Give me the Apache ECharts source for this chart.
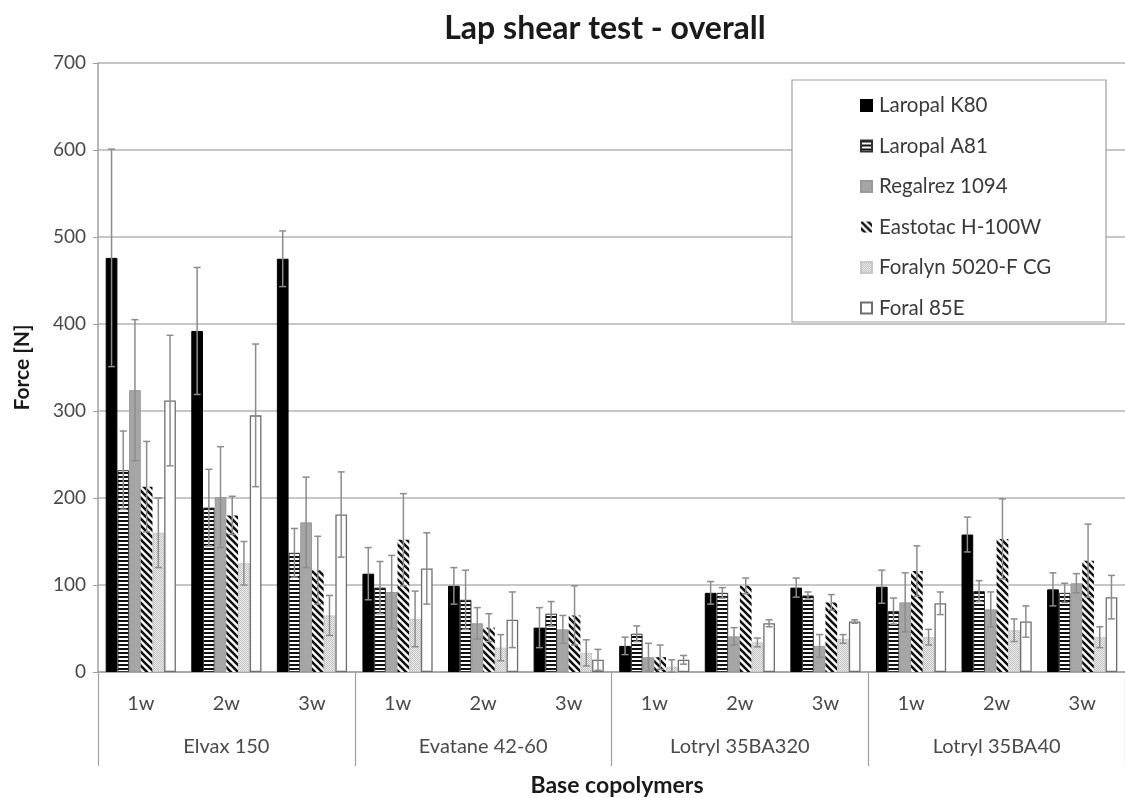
<!DOCTYPE html>
<html>
<head>
<meta charset="utf-8">
<script src="https://cdn.jsdelivr.net/npm/echarts@6/dist/echarts.min.js"></script>
<style>
html,body{margin:0;padding:0;background:#fff;}
#c{width:1125px;height:798px;}
</style>
</head>
<body>
<div id="c"></div>
<script>
// ---- data ----
const weeks = ['1w','2w','3w','1w','2w','3w','1w','2w','3w','1w','2w','3w'];
const groups = ['Elvax 150','Evatane 42-60','Lotryl 35BA320','Lotryl 35BA40'];
const seriesNames = ['Laropal K80','Laropal A81','Regalrez 1094','Eastotac H-100W','Foralyn 5020-F CG','Foral 85E'];
const yTicks = [0,100,200,300,400,500,600,700];

const laropalK80    = [476, 392, 475, 113, 99, 51, 30, 91, 97, 98, 158, 95];
const laropalK80Err = [125, 73, 32, 30, 21, 23, 10, 13, 11, 19, 20, 19];
const laropalA81    = [232, 189, 137, 97, 83, 67, 44, 91, 88, 70, 93, 91];
const laropalA81Err = [45, 44, 28, 30, 34, 14, 9, 6, 4, 15, 12, 11];
const regalrez      = [324, 201, 172, 92, 56, 49, 17, 41, 30, 80, 72, 102];
const regalrezErr   = [81, 58, 52, 42, 18, 16, 16, 10, 13, 34, 20, 11];
const eastotac      = [213, 180, 117, 152, 51, 65, 17, 99, 80, 116, 153, 128];
const eastotacErr   = [52, 22, 39, 53, 16, 34, 14, 9, 9, 29, 46, 42];
const foralyn       = [160, 125, 65, 61, 28, 22, 6, 34, 38, 40, 48, 40];
const foralynErr    = [40, 25, 23, 32, 15, 15, 8, 5, 5, 9, 13, 12];
const foral85E      = [312, 295, 181, 119, 60, 14, 14, 56, 58, 79, 58, 86];
const foral85EErr   = [75, 82, 49, 41, 32, 12, 5, 4, 2, 13, 18, 25];

const values = [laropalK80, laropalA81, regalrez, eastotac, foralyn, foral85E];
const errors = [laropalK80Err, laropalA81Err, regalrezErr, eastotacErr, foralynErr, foral85EErr];

// ---- patterns ----
function mk(w,h,draw){const c=document.createElement('canvas');c.width=w;c.height=h;const x=c.getContext('2d');draw(x,w,h);return c;}
const hStripes = mk(4,4,(g)=>{g.fillStyle='#fff';g.fillRect(0,0,4,4);g.fillStyle='#111';g.fillRect(0,0,4,2);});
const dStripes = mk(7,7,(g)=>{g.fillStyle='#fff';g.fillRect(0,0,7,7);g.strokeStyle='#111';g.lineWidth=2.6;
  g.beginPath();g.moveTo(-1,-1);g.lineTo(8,8);g.moveTo(-8,-1);g.lineTo(1,8);g.moveTo(6,-1);g.lineTo(15,8);g.stroke();});
const dots = mk(2,2,(g)=>{g.fillStyle='#ececec';g.fillRect(0,0,2,2);g.fillStyle='#c4c4c4';g.fillRect(0,0,1,1);g.fillRect(1,1,1,1);});

const styles = [
  {color:'#000', borderColor:'#000', borderWidth:1},
  {color:{image:hStripes, repeat:'repeat'}, borderColor:'#333', borderWidth:1},
  {color:'#a6a6a6', borderColor:'#999', borderWidth:1},
  {color:{image:dStripes, repeat:'repeat'}, borderColor:'#fff', borderWidth:0},
  {color:{image:dots, repeat:'repeat'}, borderColor:'#c8c8c8', borderWidth:1},
  {color:'#fff', borderColor:'#6e6e6e', borderWidth:1.3}
];

const GAP = 0.18;
const FONT = 'Lato, "Open Sans", sans-serif';

const series = seriesNames.map((n,i)=>({
  name:n, type:'bar', data:values[i], barGap:0, barCategoryGap:(GAP*100)+'%',
  itemStyle:styles[i], z:2
}));

const errData = [];
values.forEach((arr,si)=>arr.forEach((v,ci)=>errData.push([ci, si, v, errors[si][ci]])));

series.push({
  type:'custom', name:'err', z:5, silent:true,
  encode:{x:0, y:2},
  data:errData,
  renderItem:function(params, api){
    const ci=api.value(0), si=api.value(1), v=api.value(2), e=api.value(3);
    const catW = api.size([1,0])[0];
    const bw = catW*(1-GAP)/6;
    const x = api.coord([ci,0])[0] + (si-2.5)*bw;
    const yt = api.coord([ci, v+e])[1];
    const yb = api.coord([ci, Math.max(0,v-e)])[1];
    const st = {stroke:'#8c8c8c', lineWidth:1.5};
    return {type:'group', children:[
      {type:'line', shape:{x1:x,y1:yt,x2:x,y2:yb}, style:st},
      {type:'line', shape:{x1:x-3.5,y1:yt,x2:x+3.5,y2:yt}, style:st},
      {type:'line', shape:{x1:x-3.5,y1:yb,x2:x+3.5,y2:yb}, style:st}
    ]};
  }
});

const chart = echarts.init(document.getElementById('c'), null, {renderer:'canvas'});
chart.setOption({
  animation:false,
  backgroundColor:'#fff',
  title:[{
    text:'Lap shear test - overall', left:600, top:8, textAlign:'center',
    textStyle:{fontFamily:FONT, fontSize:32, fontWeight:'bold', color:'#1a1a1a'}
  }],
  graphic:[
    {type:'rect', shape:{x:792, y:80, width:314, height:242}, style:{fill:'#fff', stroke:'#a0a0a0', lineWidth:1.2}, z:10},
    {type:'text', style:{text:'Base copolymers', x:617, y:786, textAlign:'center', textVerticalAlign:'middle', fontFamily:FONT, fontSize:23, fontWeight:'bold', fill:'#1a1a1a'}}
  ],
  legend:{
    data:seriesNames.map(n=>({name:n, icon:'rect'})), orient:'vertical', left:855, top:90, itemWidth:11, itemHeight:11, itemGap:19.5,
    textStyle:{fontFamily:FONT, fontSize:20.5, color:'#3a3a3a', padding:[0,0,0,2]}, z:20, selectedMode:false
  },
  grid:{left:98, top:63, width:1036, height:609, containLabel:false},
  xAxis:[
    {type:'category', data:weeks, position:'bottom',
     axisLine:{show:true, lineStyle:{color:'#a0a0a0', width:1.5}},
     axisTick:{show:false},
     axisLabel:{interval:0, margin:22, fontFamily:FONT, fontSize:20, color:'#4a4a4a'}},
    {type:'category', data:groups, position:'bottom', gridIndex:0,
     axisLine:{show:false},
     axisTick:{show:true, interval:0, length:94, lineStyle:{color:'#a0a0a0', width:1.2}},
     axisLabel:{interval:0, margin:65, fontFamily:FONT, fontSize:20, color:'#4a4a4a'}}
  ],
  yAxis:{type:'value', min:0, max:700, interval:100,
    name:'Force [N]', nameLocation:'middle', nameGap:65,
    nameTextStyle:{fontFamily:FONT, fontSize:21, fontWeight:'bold', color:'#1a1a1a'},
    axisLine:{show:true, lineStyle:{color:'#a0a0a0', width:1.5}},
    axisTick:{show:true, length:5, lineStyle:{color:'#a0a0a0'}},
    splitLine:{lineStyle:{color:'#b4b4b4', width:1.5}},
    axisLabel:{margin:12, fontFamily:FONT, fontSize:19, color:'#4a4a4a',
      formatter:(v)=> yTicks.indexOf(v)>=0 ? String(v) : ''}
  },
  series:series
});
</script>
</body>
</html>
